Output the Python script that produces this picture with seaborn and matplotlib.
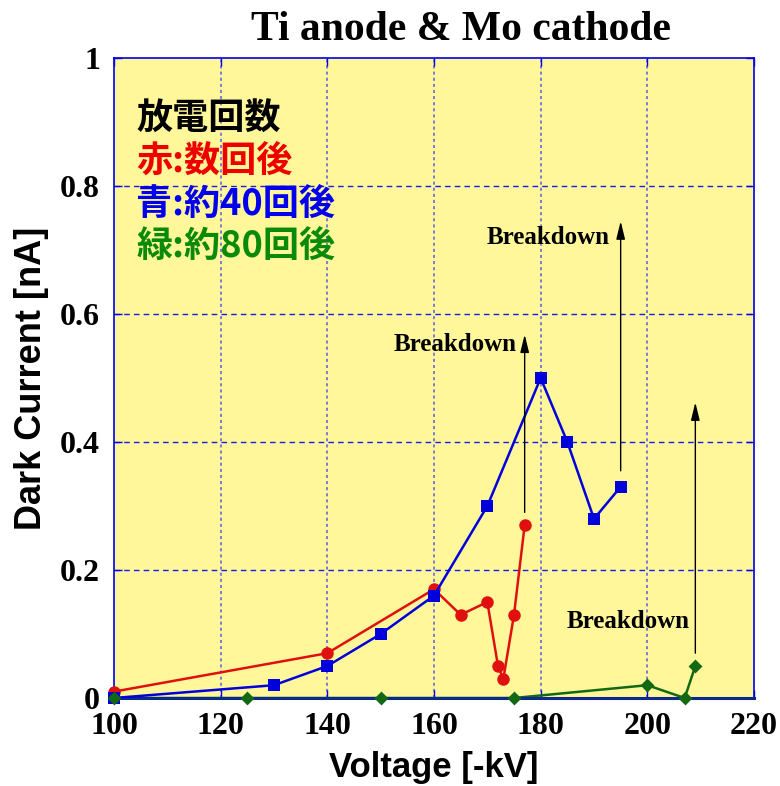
import matplotlib
matplotlib.use("Agg")
import matplotlib.pyplot as plt
import seaborn as sns
import pandas as pd

# Discharge conditioning series: dark current vs. applied voltage
red_kv = [100, 140, 160, 165, 170, 172, 173, 175, 177]
red_na = [0.01, 0.07, 0.17, 0.13, 0.15, 0.05, 0.03, 0.13, 0.27]

blue_kv = [100, 130, 140, 150, 160, 170, 180, 185, 190, 195]
blue_na = [0.0, 0.02, 0.05, 0.10, 0.16, 0.30, 0.50, 0.40, 0.28, 0.33]

green_kv = [100, 125, 150, 175, 200, 207, 209]
green_na = [0.0, 0.0, 0.0, 0.0, 0.02, 0.0, 0.05]

x_ticks = [100, 120, 140, 160, 180, 200, 220]
y_ticks = [0, 0.2, 0.4, 0.6, 0.8, 1.0]
y_tick_labels = ["0", "0.2", "0.4", "0.6", "0.8", "1"]

legend_lines = ["放電回数", "赤:数回後", "青:約40回後", "緑:約80回後"]
legend_colors = ["black", "#ee0000", "#0000ee", "#0a8a0a"]

# Breakdown arrows: (voltage, start current, tip current), and label positions
arrows = [(177, 0.29, 0.568), (195, 0.355, 0.745), (209, 0.07, 0.462)]
labels = [(163.9, 0.553), (181.4, 0.72), (196.4, 0.12)]

sns.set_theme(style="white")
plt.rcParams["font.family"] = ["Liberation Serif", "DejaVu Serif"]
plt.rcParams["text.color"] = "black"
plt.rcParams["axes.labelcolor"] = "black"

fig = plt.figure(figsize=(7.8, 7.86), dpi=100)
ax = fig.add_axes([114 / 780, 1 - 698 / 786, 640 / 780, 640 / 786])
ax.set_facecolor("#fff799")

ax.set_xlim(100, 220)
ax.set_ylim(0, 1)

# grid
for v in x_ticks[1:-1]:
    ax.axvline(v, color="#5a5ae0", lw=1.1, ls=(0, (2, 2)), zorder=0.5)
for v in y_ticks[1:-1]:
    ax.axhline(v, color="#1a1aee", lw=1.0, ls=(0, (4, 3)), zorder=0.5)

df_r = pd.DataFrame({"kv": red_kv, "na": red_na})
df_b = pd.DataFrame({"kv": blue_kv, "na": blue_na})
df_g = pd.DataFrame({"kv": green_kv, "na": green_na})

# green line sits beneath the bottom spine, its markers above it
sns.lineplot(data=df_g, x="kv", y="na", ax=ax, color="#136813", lw=1.8,
             sort=False, estimator=None, clip_on=False, zorder=2)
sns.scatterplot(data=df_g, x="kv", y="na", ax=ax, color="#136813",
                marker="D", s=50, linewidth=0, clip_on=False, zorder=6)
sns.lineplot(data=df_r, x="kv", y="na", ax=ax, color="#e01010", lw=1.8,
             marker="o", markersize=9, markeredgewidth=0, sort=False,
             estimator=None, clip_on=False, zorder=4)
sns.lineplot(data=df_b, x="kv", y="na", ax=ax, color="#0000dd", lw=1.8,
             marker="s", markersize=9, markeredgewidth=0, sort=False,
             estimator=None, clip_on=False, zorder=5)

for (xv, y0, y1) in arrows:
    ax.annotate("", xy=(xv, y1), xytext=(xv, y0),
                arrowprops=dict(arrowstyle="-|>,head_length=0.9,head_width=0.22",
                                color="black", lw=1.0, shrinkA=0, shrinkB=0),
                zorder=6)
for (xv, yv) in labels:
    ax.text(xv, yv, "Breakdown", ha="center", va="center", fontsize=18,
            fontweight="bold", color="black",
            family=["Liberation Serif", "DejaVu Serif"], zorder=6)

# legend-like annotation block
for i, (t, c) in enumerate(zip(legend_lines, legend_colors)):
    ax.text(104.2, 0.906 - i * 0.067, t, ha="left", va="center", fontsize=26,
            fontweight="bold", color=c,
            family=["Noto Sans CJK JP", "DejaVu Sans"], zorder=6)

ax.set_xticks(x_ticks)
ax.set_yticks(y_ticks)
ax.set_yticklabels(y_tick_labels)
for lab in ax.get_xticklabels() + ax.get_yticklabels():
    lab.set_fontweight("bold")
    lab.set_fontsize(23)
    lab.set_family(["Liberation Serif", "DejaVu Serif"])
ax.tick_params(axis="both", which="both", direction="in", length=6, width=1,
               color="#0000ee", top=True, right=True, bottom=True, left=True,
               labelcolor="black")
ax.tick_params(axis="x", pad=10)
ax.tick_params(axis="y", pad=10)

for s in ax.spines.values():
    s.set_color("#0000ee")
    s.set_linewidth(1.2)
    s.set_visible(True)
ax.spines["bottom"].set_color("#0c2a8c")
ax.spines["bottom"].set_linewidth(2.2)

ax.set_xlabel("Voltage [-kV]", fontsize=25, fontweight="bold",
              family=["Liberation Sans", "DejaVu Sans"], labelpad=7)
ax.set_ylabel("Dark Current [nA]", fontsize=26, fontweight="bold",
              family=["Liberation Sans", "DejaVu Sans"], labelpad=8)

fig.text(461 / 780, 1 - 30 / 786, "Ti anode & Mo cathode", ha="center",
         va="center", fontsize=30, fontweight="bold", color="black",
         family=["Liberation Serif", "DejaVu Serif"])

fig.savefig("out.png", dpi=100, facecolor="white")
